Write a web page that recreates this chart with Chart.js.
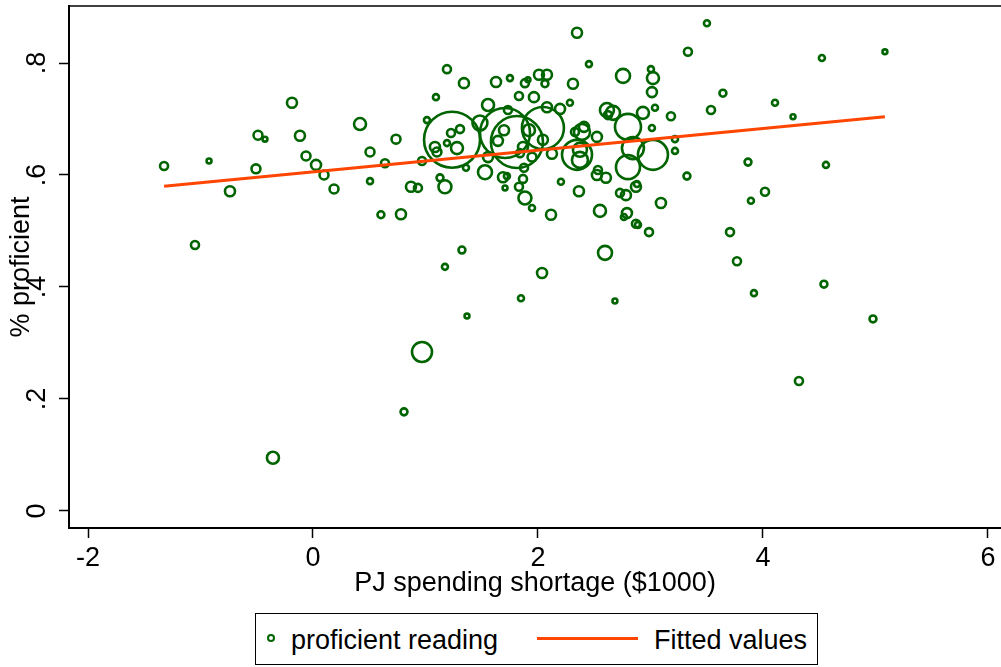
<!DOCTYPE html>
<html>
<head>
<meta charset="utf-8">
<title>Proficient reading vs PJ spending shortage</title>
<script src="https://cdn.jsdelivr.net/npm/chart.js@4.4.1/dist/chart.umd.min.js"></script>
<style>
  body { margin: 0; background: #fff; }
  #wrap { position: relative; width: 1001px; height: 667px; font-family: "Liberation Sans", Arial, sans-serif; }
  #legend { position: absolute; left: 255px; top: 613px; width: 561px; height: 50px; border: 1px solid #000; background: #fff; }
  #legend span { position: absolute; font-size: 27px; line-height: 32px; color: #000; white-space: nowrap; }
  #legend .dot { left: 11px; top: 20px; width: 4px; height: 4px; border: 2px solid #006400; border-radius: 50%; }
  #legend .line { left: 281px; top: 23px; width: 101px; height: 3px; background: #ff4500; }
</style>
</head>
<body>
<div id="wrap">
  <canvas id="scatter__graph" width="1001" height="667"></canvas>
  <div id="legend">
    <span class="dot"></span>
    <span style="left:35px; top:10px;">proficient reading</span>
    <span class="line"></span>
    <span style="left:398px; top:10px;">Fitted values</span>
  </div>
</div>
<script>
// spending shortage in $1000, share proficient in reading, school weight
const shortage = [
  -1.324, -0.924, -1.049, -0.738, -0.489, -0.427, -0.507, -0.187, -0.116, -0.062,
  0.027, 0.098, 0.187, -0.356, 0.418, 0.507, 0.507, 0.604, 0.640, 0.738,
  0.782, 0.871, 0.933, 0.969, 0.969, 0.809, 1.013, 1.093, 1.191, 1.342,
  1.129, 1.173, 1.360, 1.324, 1.173, 1.369, 1.236, 1.227, 1.307, 1.280,
  1.084, 1.102, 1.191, 1.484, 1.556, 1.707, 1.813, 2.044, 1.698, 1.644,
  1.920, 1.529, 1.556, 1.867, 1.840, 1.947, 2.044, 2.124, 1.689, 1.724,
  1.876, 1.867, 1.831, 1.707, 1.884, 1.947, 2.204, 2.116, 2.036, 1.751,
  1.884, 1.911, 2.009, 2.080, 2.062, 1.627, 1.831, 1.964, 2.080, 2.196,
  1.733, 2.284, 2.311, 2.453, 2.347, 2.756, 3.004, 3.022, 3.013, 2.613,
  2.667, 2.622, 2.800, 2.844, 2.800, 3.022, 2.347, 2.373, 2.373, 2.391,
  2.409, 2.329, 2.524, 2.933, 3.013, 3.040, 3.182, 3.218, 3.218, 2.533,
  2.524, 2.604, 2.729, 2.782, 2.871, 2.880, 3.093, 3.324, 2.364, 2.551,
  2.791, 2.764, 2.871, 2.889, 2.987, 2.596, 1.849, 2.684, 3.333, 3.502,
  4.524, 5.084, 3.644, 3.538, 4.107, 4.267, 3.867, 4.560, 4.018, 3.893,
  3.707, 3.769, 3.920, 4.542, 4.978, 4.320
];
const proficient = [
  0.616, 0.625, 0.475, 0.571, 0.671, 0.664, 0.611, 0.729, 0.670, 0.634,
  0.618, 0.600, 0.575, 0.095, 0.691, 0.641, 0.589, 0.529, 0.621, 0.664,
  0.530, 0.579, 0.577, 0.625, 0.284, 0.177, 0.698, 0.739, 0.789, 0.764,
  0.595, 0.579, 0.613, 0.466, 0.436, 0.348, 0.663, 0.675, 0.682, 0.648,
  0.650, 0.641, 0.657, 0.693, 0.725, 0.675, 0.659, 0.684, 0.680, 0.661,
  0.680, 0.605, 0.632, 0.650, 0.639, 0.632, 0.663, 0.638, 0.596, 0.598,
  0.613, 0.593, 0.579, 0.577, 0.559, 0.541, 0.588, 0.529, 0.425, 0.773,
  0.764, 0.770, 0.779, 0.779, 0.763, 0.766, 0.741, 0.739, 0.721, 0.718,
  0.716, 0.729, 0.763, 0.798, 0.854, 0.777, 0.789, 0.773, 0.748, 0.716,
  0.711, 0.707, 0.686, 0.648, 0.614, 0.636, 0.636, 0.627, 0.645, 0.677,
  0.686, 0.677, 0.668, 0.711, 0.684, 0.720, 0.705, 0.664, 0.643, 0.609,
  0.600, 0.595, 0.568, 0.564, 0.579, 0.584, 0.550, 0.598, 0.571, 0.536,
  0.532, 0.525, 0.513, 0.511, 0.498, 0.461, 0.380, 0.375, 0.820, 0.871,
  0.809, 0.820, 0.746, 0.716, 0.729, 0.704, 0.623, 0.618, 0.570, 0.554,
  0.498, 0.446, 0.389, 0.405, 0.343, 0.232
];
const weights = [
  16, 6, 16, 25, 20, 6, 20, 25, 25, 20,
  25, 20, 20, 36, 36, 20, 9, 12, 16, 20,
  25, 25, 16, 16, 100, 12, 9, 9, 16, 25,
  12, 42, 9, 12, 9, 6, 784, 16, 16, 36,
  25, 20, 9, 56, 36, 625, 676, 441, 25, 25,
  36, 49, 25, 25, 16, 20, 25, 25, 25, 9,
  16, 16, 16, 6, 42, 9, 9, 25, 25, 9,
  16, 6, 25, 25, 12, 25, 16, 25, 25, 25,
  16, 9, 25, 9, 25, 49, 9, 36, 25, 49,
  49, 16, 169, 121, 144, 225, 225, 64, 49, 64,
  25, 16, 25, 36, 9, 9, 16, 9, 9, 16,
  25, 25, 16, 25, 25, 9, 25, 12, 25, 36,
  25, 9, 16, 9, 16, 49, 9, 6, 16, 9,
  9, 6, 12, 16, 9, 6, 12, 9, 16, 9,
  16, 16, 9, 12, 12, 16
];

// fitted values at the ends of the data range
const fitX = [-1.324, 5.084];
const fitY = [0.580, 0.704];

const xTicks = [-2, 0, 2, 4, 6];
const yTicks = [0, 0.2, 0.4, 0.6, 0.8];
const yTickLabels = ["0", ".2", ".4", ".6", ".8"];
const xTitle = "PJ spending shortage ($1000)";
const yTitle = "% proficient";

const FONT = "'Liberation Sans', Arial, sans-serif";
Chart.defaults.font.family = FONT;
Chart.defaults.color = "#000";

// y tick labels are rotated in this style, and the plot box has a top edge
const stataFrame = {
  id: "stataFrame",
  afterDraw(chart) {
    const { ctx, chartArea, scales } = chart;
    ctx.save();
    ctx.fillStyle = "#000";
    ctx.font = "27px " + FONT;
    ctx.textAlign = "center";
    ctx.textBaseline = "alphabetic";
    yTicks.forEach((v, i) => {
      ctx.save();
      ctx.translate(45, scales.y.getPixelForValue(v));
      ctx.rotate(-Math.PI / 2);
      ctx.fillText(yTickLabels[i], 0, 0);
      ctx.restore();
    });
    ctx.strokeStyle = "#000";
    ctx.lineWidth = 1.5;
    ctx.beginPath();
    ctx.moveTo(chartArea.left, chartArea.top);
    ctx.lineTo(chartArea.right, chartArea.top);
    ctx.stroke();
    ctx.restore();
  },
};

const scatterGraph = () => {
  let ctx = document.getElementById("scatter__graph").getContext("2d");
  let myChart = new Chart(ctx, {
    type: "bubble",
    data: {
      datasets: [
        {
          type: "line",
          label: "Fitted values",
          data: fitX.map((x, i) => ({ x: x, y: fitY[i] })),
          borderColor: "#ff4500",
          borderWidth: 3,
          pointRadius: 0,
          fill: false,
          order: 0,
        },
        {
          label: "proficient reading",
          data: shortage.map((x, i) => ({ x: x, y: proficient[i], r: Math.sqrt(weights[i]) })),
          backgroundColor: "rgba(0,0,0,0)",
          borderColor: "#006400",
          borderWidth: 2.6,
          order: 1,
        },
      ],
    },
    options: {
      responsive: false,
      animation: false,
      events: [],
      layout: { autoPadding: false, padding: { top: 6, right: 0, bottom: 67, left: 0 } },
      plugins: {
        legend: { display: false },
        tooltip: { enabled: false },
      },
      scales: {
        x: {
          type: "linear",
          min: -2.169,
          max: 6.116,
          afterBuildTicks: (s) => { s.ticks = xTicks.map((v) => ({ value: v })); },
          afterFit: (s) => { s.height = 72; s.paddingLeft = 0; s.paddingRight = 0; },
          ticks: {
            font: { size: 27 },
            color: "#000",
            padding: 4,
            maxRotation: 0,
            autoSkip: false,
            callback: (v) => String(v),
          },
          grid: {
            drawOnChartArea: false,
            drawTicks: true,
            tickLength: 10,
            tickColor: "#000",
            tickWidth: 1.5,
          },
          border: { display: true, color: "#000", width: 2 },
          title: {
            display: true,
            text: xTitle,
            color: "#000",
            font: { size: 27 },
            padding: { top: 0, bottom: 0 },
          },
        },
        y: {
          type: "linear",
          min: -0.0304,
          max: 0.9018,
          afterBuildTicks: (s) => { s.ticks = yTicks.map((v) => ({ value: v })); },
          afterFit: (s) => { s.width = 69; },
          ticks: { display: false },
          grid: {
            drawOnChartArea: false,
            drawTicks: true,
            tickLength: 10,
            tickColor: "#000",
            tickWidth: 1.5,
          },
          border: { display: true, color: "#000", width: 2 },
          title: {
            display: true,
            text: yTitle,
            color: "#000",
            font: { size: 27 },
            padding: { top: 5, bottom: 0 },
          },
        },
      },
    },
    plugins: [stataFrame],
  });
};

scatterGraph();
</script>
</body>
</html>
